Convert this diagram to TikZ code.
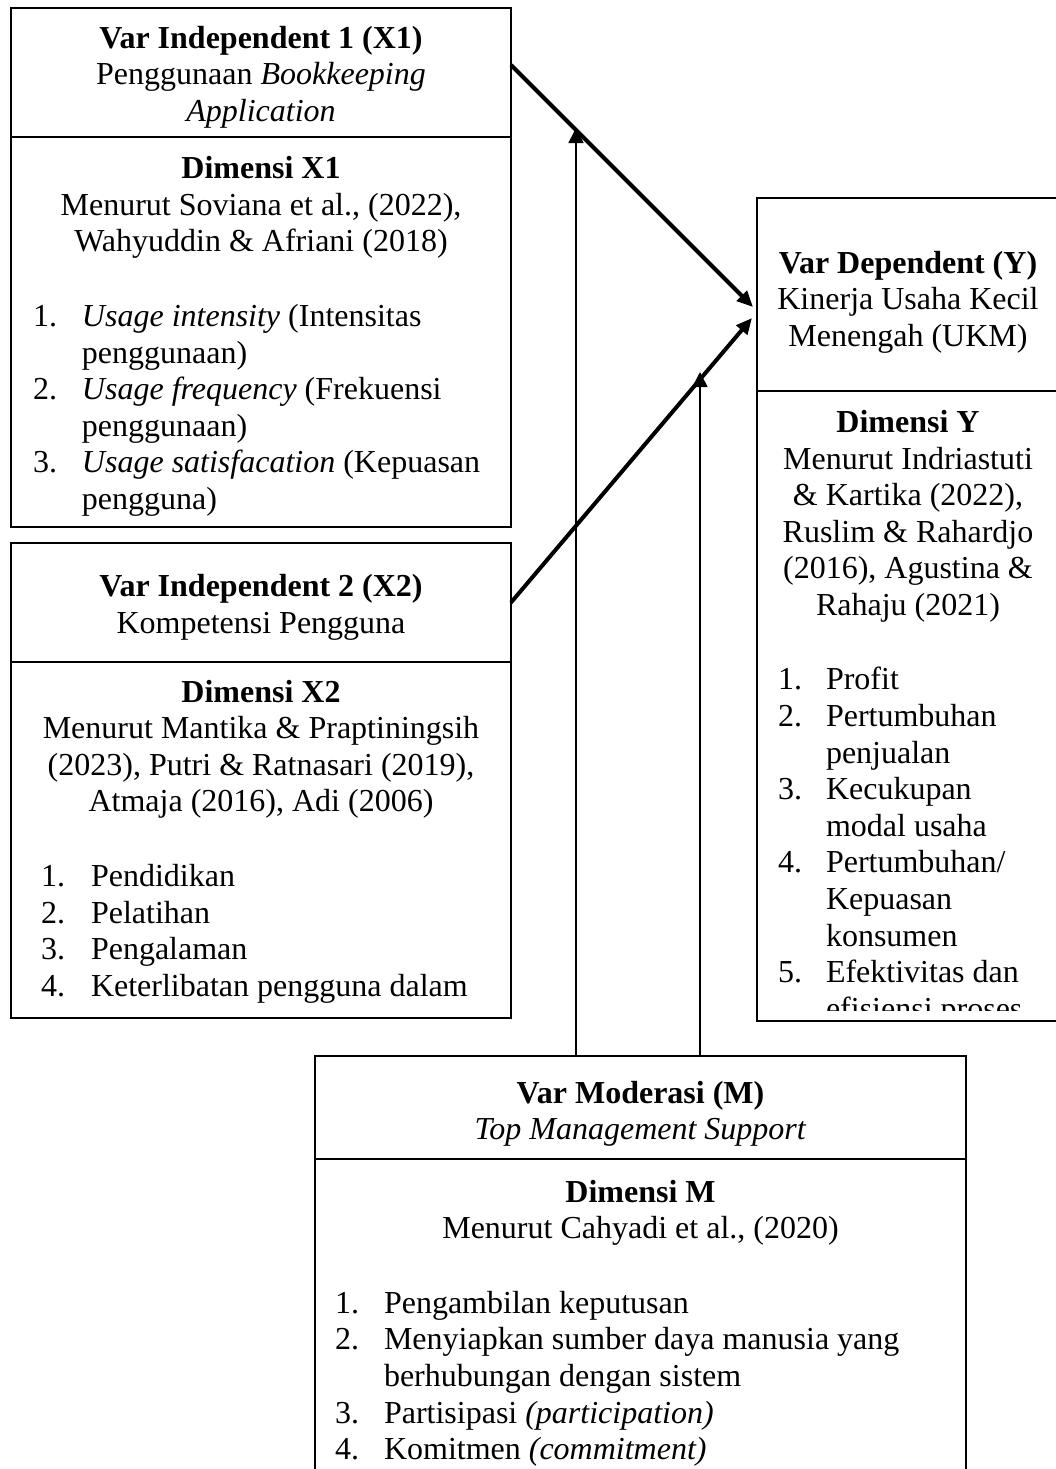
\documentclass[tikz,border=0pt]{standalone}
\usepackage{fontspec}
\setmainfont{Liberation Serif}
\usetikzlibrary{arrows.meta}
\tikzset{
  box/.style={draw, line width=1pt, rectangle, inner sep=0pt, outer sep=0pt, anchor=north west},
  txt/.style={inner sep=0pt, outer sep=0pt, font=\fontsize{16}{18.25}\selectfont},
  boldarrow/.style={line width=2pt, -{Triangle[length=8pt,width=7pt]}},
  thinarrow/.style={line width=0.8pt, -{Triangle[length=7.5pt,width=7.5pt]}},
}
\newcommand\ctext[4]{\node[txt, anchor=base] (#1) at (#2,#3) {#4};}
\newcommand\ltext[4]{\node[txt, anchor=base west] (#1) at (#2,#3) {#4};}
\begin{document}
\begin{tikzpicture}[x=0.5pt, y=-0.5pt]
\useasboundingbox (0,0) rectangle (1056,1469);
% ---------- boxes ----------
\node[box, minimum width=250pt, minimum height=64.5pt] (x1h) at (11,8) {};
\node[box, minimum width=250pt, minimum height=195pt] (x1d) at (11,137) {};
\node[box, minimum width=250pt, minimum height=59.5pt] (x2h) at (11,543) {};
\node[box, minimum width=250pt, minimum height=178pt] (x2d) at (11,662) {};
\node[box, minimum width=151.5pt, minimum height=96.5pt] (yh) at (757,198) {};
\node[box, minimum width=151.5pt, minimum height=315pt] (yd) at (757,391) {};
\node[box, minimum width=325.5pt, minimum height=51.5pt] (mh) at (315,1056) {};
\node[box, minimum width=325.5pt, minimum height=165pt] (md) at (315,1159) {};
\begin{scope}[yshift=-0.75pt]
% ---------- X1 ----------
\ctext{x1a}{261}{46.7}{\textbf{Var Independent 1 (X1)}}
\ctext{x1b}{261}{83.2}{Penggunaan \textit{Bookkeeping}}
\ctext{x1c}{261}{119.7}{\textit{Application}}
\ctext{x1d1}{261}{177}{\textbf{Dimensi X1}}
\ctext{x1d2}{261}{213.5}{Menurut Soviana et al., (2022),}
\ctext{x1d3}{261}{250}{Wahyuddin \& Afriani (2018)}
\ltext{x1n1}{33}{325}{1.}
\ltext{x1t1}{82}{325}{\textit{Usage intensity} (Intensitas}
\ltext{x1t1b}{82}{361.5}{penggunaan)}
\ltext{x1n2}{33}{398}{2.}
\ltext{x1t2}{82}{398}{\textit{Usage frequency} (Frekuensi}
\ltext{x1t2b}{82}{434.5}{penggunaan)}
\ltext{x1n3}{33}{471}{3.}
\ltext{x1t3}{82}{471}{\textit{Usage satisfacation} (Kepuasan}
\ltext{x1t3b}{82}{507.5}{pengguna)}
% ---------- X2 ----------
\ctext{x2a}{261}{595}{\textbf{Var Independent 2 (X2)}}
\ctext{x2b}{261}{631.5}{Kompetensi Pengguna}
\ctext{x2d1}{261}{700.5}{\textbf{Dimensi X2}}
\ctext{x2d2}{261}{737}{Menurut Mantika \& Praptiningsih}
\ctext{x2d3}{261}{773.5}{(2023), Putri \& Ratnasari (2019),}
\ctext{x2d4}{261}{810}{Atmaja (2016), Adi (2006)}
\ltext{x2n1}{41}{885}{1.}
\ltext{x2t1}{91}{885}{Pendidikan}
\ltext{x2n2}{41}{921.5}{2.}
\ltext{x2t2}{91}{921.5}{Pelatihan}
\ltext{x2n3}{41}{958}{3.}
\ltext{x2t3}{91}{958}{Pengalaman}
\ltext{x2n4}{41}{994.5}{4.}
\ltext{x2t4}{91}{994.5}{Keterlibatan pengguna dalam}
% ---------- Y ----------
\ctext{ya}{908}{271.5}{\textbf{Var Dependent (Y)}}
\ctext{yb}{908}{308}{Kinerja Usaha Kecil}
\ctext{yc}{908}{344.5}{Menengah (UKM)}
\ctext{yd1}{908}{431}{\textbf{Dimensi Y}}
\ctext{yd2}{908}{467.5}{Menurut Indriastuti}
\ctext{yd3}{908}{504}{\& Kartika (2022),}
\ctext{yd4}{908}{540.5}{Ruslim \& Rahardjo}
\ctext{yd5}{908}{577}{(2016), Agustina \&}
\ctext{yd6}{908}{613.5}{Rahaju (2021)}
% ---------- M ----------
\ctext{ma}{640.5}{1101.7}{\textbf{Var Moderasi (M)}}
\ctext{mb}{640.5}{1138.3}{\textit{Top Management Support}}
\ctext{md1}{640.5}{1200.7}{\textbf{Dimensi M}}
\ctext{md2}{640.5}{1236.7}{Menurut Cahyadi et al., (2020)}
\ltext{mn1}{335}{1311.7}{1.}
\ltext{mt1}{384}{1311.7}{Pengambilan keputusan}
\ltext{mn2}{335}{1348.3}{2.}
\ltext{mt2}{384}{1348.3}{Menyiapkan sumber daya manusia yang}
\ltext{mt2b}{384}{1384.9}{berhubungan dengan sistem}
\ltext{mn3}{335}{1421.5}{3.}
\ltext{mt3}{384}{1421.5}{Partisipasi \textit{(participation)}}
\ltext{mn4}{335}{1458.1}{4.}
\ltext{mt4}{384}{1458.1}{Komitmen \textit{(commitment)}}
\end{scope}
\begin{scope}
\clip (757,391) rectangle (1060,1010);
\begin{scope}[yshift=-0.75pt]
\ltext{yn1}{778}{688.3}{1.}
\ltext{yt1}{826}{688.3}{Profit}
\ltext{yn2}{778}{724.9}{2.}
\ltext{yt2}{826}{724.9}{Pertumbuhan}
\ltext{yt2b}{826}{761.5}{penjualan}
\ltext{yn3}{778}{798.1}{3.}
\ltext{yt3}{826}{798.1}{Kecukupan}
\ltext{yt3b}{826}{834.7}{modal usaha}
\ltext{yn4}{778}{871.3}{4.}
\ltext{yt4}{826}{871.3}{Pertumbuhan/}
\ltext{yt4b}{826}{907.9}{Kepuasan}
\ltext{yt4c}{826}{944.5}{konsumen}
\ltext{yn5}{778}{981.1}{5.}
\ltext{yt5}{826}{981.1}{Efektivitas dan}
\ltext{yt5b}{826}{1017.7}{efisiensi proses}
\end{scope}
\end{scope}
% ---------- connectors ----------
\coordinate (m1) at (576,128);
\coordinate (m2) at (700,372);
\draw[boldarrow] ([yshift=3.75pt]x1h.east) -- ([xshift=-2pt,yshift=-6.25pt]yh.west);
\draw[boldarrow] (x2h.east) -- ([xshift=-2.5pt,yshift=-11.75pt]yh.west);
\draw[thinarrow] ([xshift=-32.25pt]mh.north) -- (m1);
\draw[thinarrow] ([xshift=29.75pt]mh.north) -- (m2);
\end{tikzpicture}
\end{document}
